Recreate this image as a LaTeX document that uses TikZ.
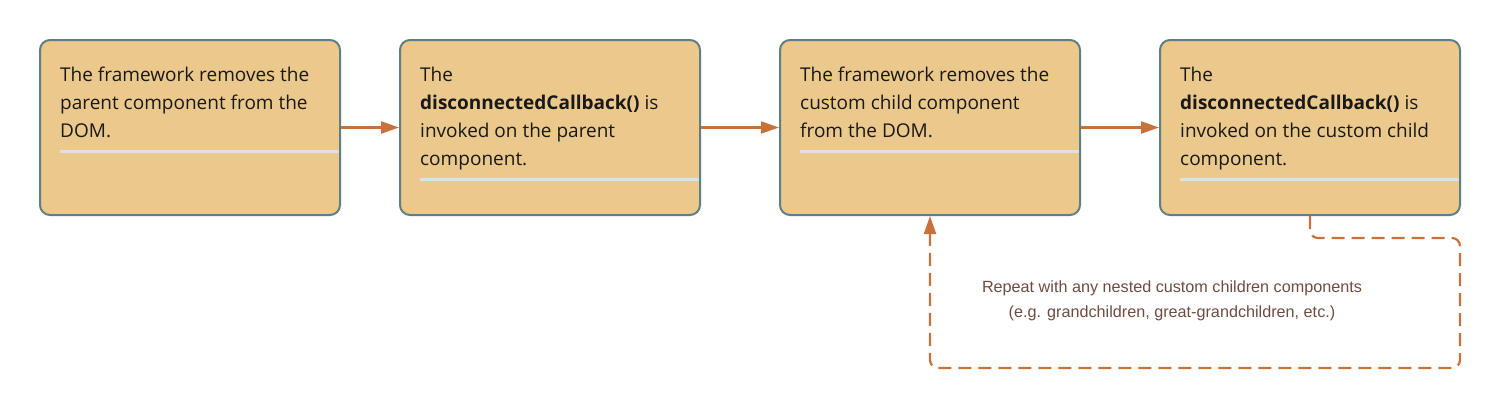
\documentclass[tikz,border=0pt]{standalone}
\usepackage{fontspec}
\setmainfont{Open Sans}
\newfontfamily\notefont{Liberation Sans}
\usetikzlibrary{arrows.meta}
\definecolor{boxfill}{HTML}{EBC88C}
\definecolor{boxedge}{HTML}{5F7F80}
\definecolor{arrowc}{HTML}{C7723A}
\definecolor{sepc}{HTML}{E0E0E0}
\definecolor{notec}{HTML}{6D4C41}
\tikzset{
  stepbox/.style={draw=boxedge, fill=boxfill, line width=2pt, rounded corners=10pt,
    minimum width=300pt, minimum height=175pt, inner sep=0pt},
  boxtext/.style={anchor=north west, inner sep=0pt, align=left,
    font=\fontsize{19pt}{28pt}\selectfont, text=black!90},
  sepline/.style={draw=sepc, line width=3pt},
  flow/.style={draw=arrowc, line width=2.2pt, -{Triangle[length=18pt,width=12pt]}},
  loopline/.style={draw=arrowc, line width=2.2pt, dash pattern=on 13pt off 7pt, rounded corners=8pt},
  notetext/.style={align=center, text=notec, font=\notefont\fontsize{16.2pt}{25pt}\selectfont}
}
\begin{document}
\begin{tikzpicture}[x=1pt,y=-1pt]
\useasboundingbox (0,0) rectangle (1500,410);
\node[stepbox] (b1) at (190,127.5) {};
\node[stepbox] (b2) at (550,127.5) {};
\node[stepbox] (b3) at (930,127.5) {};
\node[stepbox] (b4) at (1310,127.5) {};
\node[boxtext] (t1) at (60,66.5) {The framework removes the\\parent component from the\\DOM.};
\node[boxtext] (t2) at (420,66.5) {The\\\textbf{disconnectedCallback()} is\\invoked on the parent\\component.};
\node[boxtext] (t3) at (800,66.5) {The framework removes the\\custom child component\\from the DOM.};
\node[boxtext] (t4) at (1180,66.5) {The\\\textbf{disconnectedCallback()} is\\invoked on the custom child\\component.};
\draw[sepline] (60,151) -- (338.5,151);
\draw[sepline] (420,179) -- (698.5,179);
\draw[sepline] (800,151) -- (1078.5,151);
\draw[sepline] (1180,179) -- (1458.5,179);
\draw[flow] (b1.east) -- (b2.west);
\draw[flow] (b2.east) -- (b3.west);
\draw[flow] (b3.east) -- (b4.west);
\coordinate (c1) at (1310,238);
\coordinate (c2) at (1460,238);
\coordinate (c3) at (1460,368);
\coordinate (c4) at (930,368);
\draw[loopline] (b4.south) -- (c1) -- (c2) -- (c3) -- (c4) -- ([yshift=-16pt]b3.south);
\draw[flow] ([yshift=-17pt]b3.south) -- (b3.south);
\node[notetext] (note) at (1172,300.5) {Repeat with any nested custom children components\\(e.g. grandchildren, great-grandchildren, etc.)};
\end{tikzpicture}
\end{document}
